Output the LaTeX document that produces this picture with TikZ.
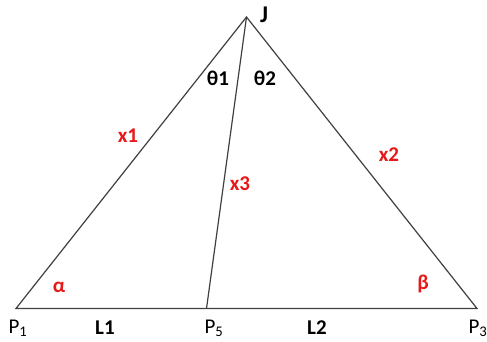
\documentclass[tikz,border=0pt]{standalone}
\usepackage{fontspec}
\setmainfont{Carlito}
\begin{document}
\begin{tikzpicture}[x=1pt,y=-1pt,
  edge/.style={draw=black!75,line width=1.2pt},
  pt/.style={inner sep=0pt,font=\fontsize{21}{21}\selectfont},
  lbl/.style={inner sep=0pt,font=\fontsize{21}{21}\selectfont\bfseries},
  red lbl/.style={lbl,text=redlbl}]
\definecolor{redlbl}{RGB}{232,24,24}
\useasboundingbox[fill=white] (0,0) rectangle (487,341);
\coordinate (J) at (246.5,17);
\coordinate (P1) at (16,308.5);
\coordinate (P5) at (206.5,308.5);
\coordinate (P3) at (477,308.5);
\draw[edge] (P1) -- (J) -- (P3) -- cycle;
\draw[edge] (J) -- (P5);
\node[lbl,font=\fontsize{24}{24}\selectfont\bfseries] (nJ) at (264,15) {J};
\node[lbl] (t1) at (218,78) {θ1};
\node[lbl] (t2) at (265,78) {θ2};
\node[red lbl] (x1) at (128,136) {x1};
\node[red lbl] (x2) at (389,155) {x2};
\node[red lbl] (x3) at (240,184) {x3};
\node[red lbl] (a) at (59,287) {α};
\node[red lbl] (b) at (423,284) {β};
\node[pt] (p1) at (18,328) {P\textsubscript{1}};
\node[pt] (p5) at (214,328) {P\textsubscript{5}};
\node[pt] (p3) at (478,328) {P\textsubscript{3}};
\node[lbl] (l1) at (105,328) {L1};
\node[lbl] (l2) at (317,328) {L2};
\end{tikzpicture}
\end{document}
